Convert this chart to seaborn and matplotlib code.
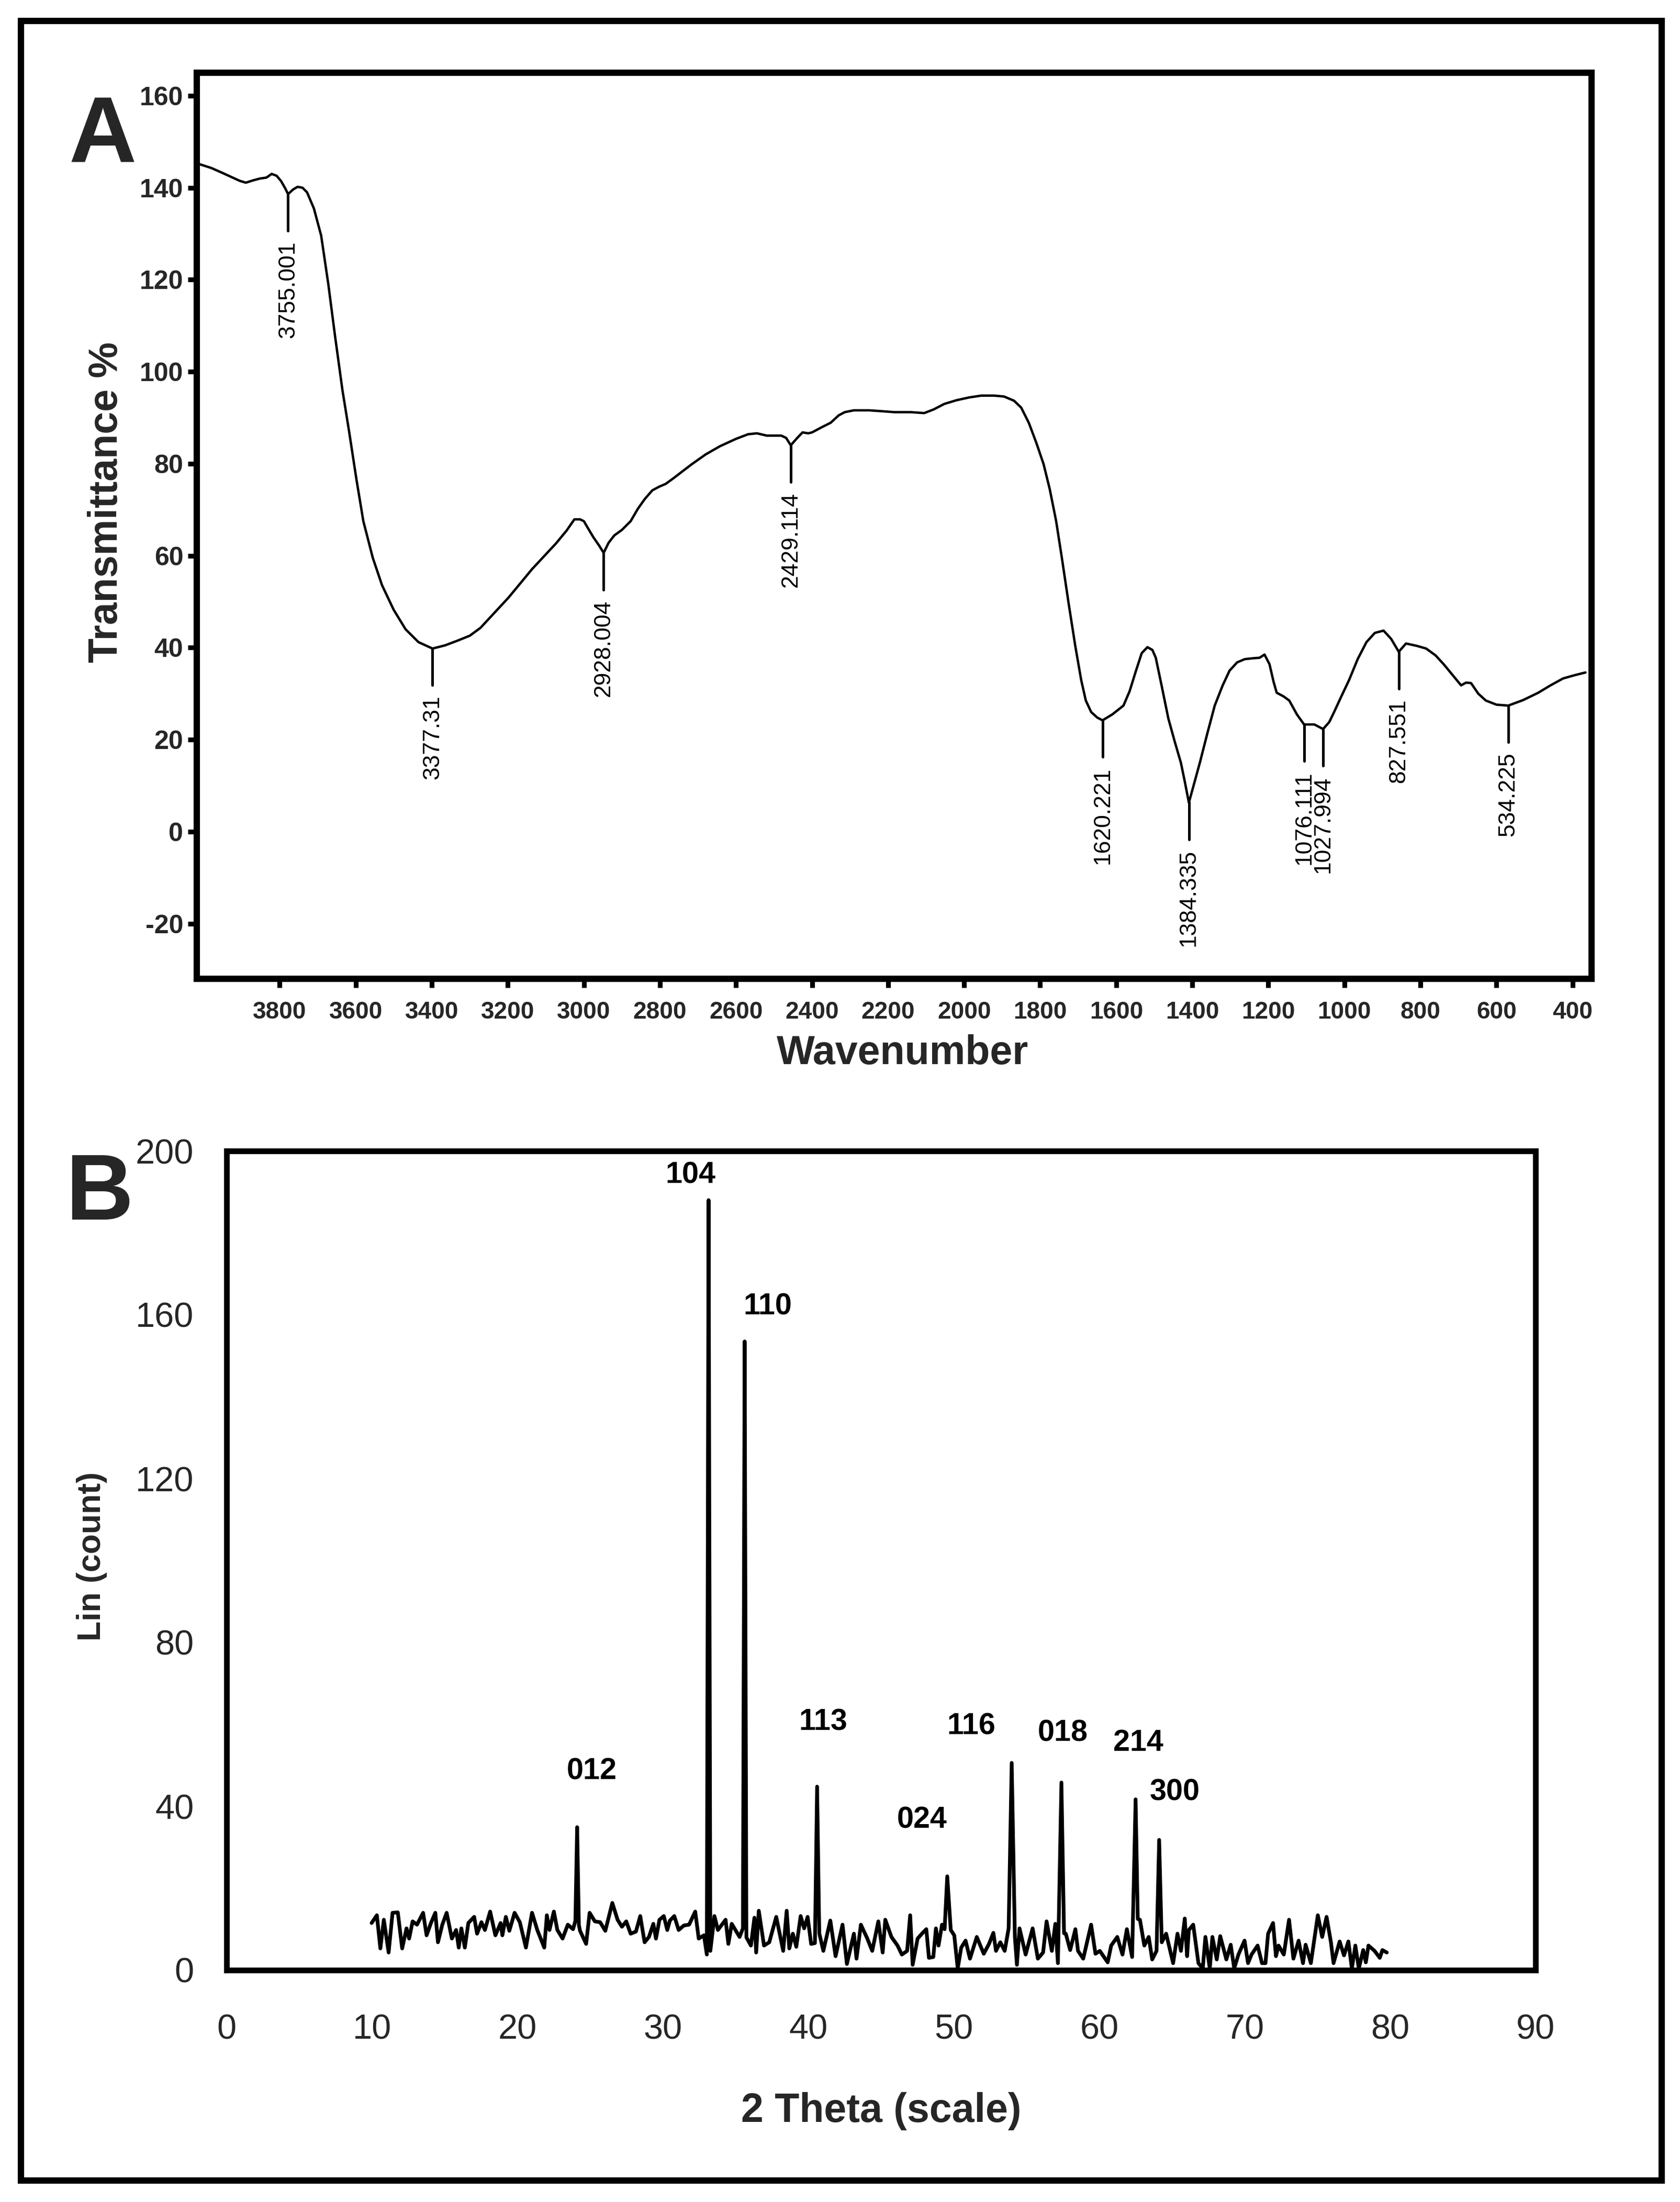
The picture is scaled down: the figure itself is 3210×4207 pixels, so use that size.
import matplotlib
matplotlib.use("Agg")
import matplotlib.pyplot as plt
from matplotlib import font_manager
from matplotlib.patches import Rectangle
import seaborn as sns

# ---------------- Panel A : FTIR spectrum ----------------
ir_wavenumber = [4010, 3980, 3950, 3926, 3905, 3889, 3870, 3852, 3835, 3821,
                 3808, 3796, 3785, 3778, 3765, 3753, 3740, 3728, 3710, 3691,
                 3672, 3654, 3635, 3617, 3598, 3580, 3555, 3531, 3500, 3469,
                 3435, 3398, 3365, 3333, 3300, 3272, 3235, 3198, 3136, 3074,
                 3045, 3025, 3010, 3000, 2988, 2975, 2960, 2948, 2935, 2920,
                 2900, 2877, 2858, 2840, 2820, 2802, 2785, 2765, 2716, 2680,
                 2642, 2600, 2568, 2545, 2519, 2481, 2468, 2456, 2440, 2425,
                 2410, 2400, 2375, 2351, 2330, 2314, 2290, 2277, 2250, 2215,
                 2183, 2140, 2105, 2080, 2052, 2020, 1987, 1955, 1921, 1895,
                 1869, 1850, 1830, 1810, 1791, 1775, 1758, 1742, 1725, 1708,
                 1692, 1680, 1666, 1650, 1636, 1610, 1581, 1565, 1548, 1533,
                 1518, 1505, 1496, 1480, 1463, 1447, 1430, 1420, 1409, 1395,
                 1380, 1360, 1341, 1320, 1302, 1282, 1262, 1240, 1223, 1210,
                 1197, 1186, 1178, 1160, 1145, 1125, 1106, 1079, 1056, 1040,
                 1027, 1008, 988, 965, 942, 920, 897, 877, 857, 838,
                 810, 785, 760, 739, 715, 693, 680, 667, 648, 628,
                 600, 569, 530, 490, 460, 425, 395, 366]
ir_transmittance = [145.1, 144.3, 143.2, 142.3, 141.5, 141.1, 141.6, 142.0, 142.2, 143.0,
                    142.6, 141.4, 139.8, 138.6, 139.6, 140.2, 140.0, 139.0, 135.5, 129.6,
                    119.0, 107.5, 96.0, 86.8, 76.5, 67.5, 59.5, 53.6, 48.2, 44.0,
                    41.2, 39.8, 40.5, 41.5, 42.6, 44.3, 47.6, 50.9, 57.1, 62.6,
                    65.5, 67.9, 67.9, 67.5, 65.8, 64.0, 62.2, 60.6, 62.8, 64.4,
                    65.6, 67.5, 70.2, 72.3, 74.2, 75.0, 75.6, 76.8, 79.9, 82.0,
                    83.8, 85.4, 86.4, 86.6, 86.1, 86.1, 85.6, 84.0, 85.5, 86.8,
                    86.6, 86.8, 87.9, 88.9, 90.5, 91.2, 91.6, 91.6, 91.6, 91.4,
                    91.2, 91.2, 91.0, 91.8, 93.0, 93.8, 94.4, 94.8, 94.8, 94.6,
                    93.7, 92.2, 88.9, 84.5, 79.9, 74.5, 67.5, 59.0, 49.5, 40.5,
                    32.9, 28.5, 26.0, 24.8, 24.2, 25.5, 27.4, 30.5, 35.0, 38.8,
                    40.1, 39.5, 37.8, 31.5, 24.6, 19.8, 15.0, 11.0, 6.3, 10.5,
                    15.0, 21.5, 27.4, 31.8, 35.0, 36.8, 37.5, 37.7, 37.8, 38.5,
                    36.4, 32.5, 30.2, 29.4, 28.5, 25.5, 23.3, 23.3, 22.3, 23.8,
                    26.0, 29.4, 32.9, 37.5, 41.2, 43.2, 43.7, 41.9, 39.1, 40.9,
                    40.4, 39.8, 38.3, 36.4, 34.0, 31.8, 32.4, 32.3, 30.0, 28.5,
                    27.6, 27.4, 28.6, 30.2, 31.7, 33.3, 34.0, 34.6]

ir_peak_pos = [3778, 3398, 2948, 2456, 1636, 1409, 1106, 1056, 857, 569]
ir_peak_dip = [138.6, 39.8, 60.6, 84.0, 24.2, 6.3, 23.3, 22.3, 39.1, 27.4]
ir_peak_labels = ["3755.001", "3377.31", "2928.004", "2429.114", "1620.221",
                  "1384.335", "1076.111", "1027.994", "827.551", "534.225"]
ir_xticks = list(range(3800, 399, -200))
ir_yticks = list(range(-20, 161, 20))

# ---------------- Panel B : XRD pattern ----------------
xrd_theta = [9.97, 10.33, 10.57, 10.81, 11.14, 11.41, 11.77, 12.07, 12.37, 12.55,
             12.79, 13.09, 13.51, 13.75, 14.05, 14.35, 14.53, 14.83, 15.13, 15.49,
             15.78, 15.96, 16.14, 16.38, 16.62, 17.02, 17.22, 17.52, 17.76, 18.12,
             18.48, 18.84, 18.96, 19.20, 19.44, 19.80, 20.16, 20.58, 21.00, 21.36,
             21.84, 22.02, 22.20, 22.50, 22.74, 23.10, 23.46, 23.82, 23.98, 24.10,
             24.22, 24.30, 24.72, 24.96, 25.32, 25.68, 26.04, 26.52, 26.88, 27.18,
             27.48, 27.78, 28.14, 28.44, 28.74, 29.04, 29.34, 29.52, 29.76, 30.06,
             30.30, 30.48, 30.78, 31.08, 31.44, 31.80, 32.22, 32.46, 32.82, 33.02,
             33.14, 33.26, 33.54, 33.78, 34.31, 34.50, 34.73, 35.27, 35.50, 35.62,
             35.74, 36.05, 36.29, 36.41, 36.59, 36.95, 37.31, 37.79, 38.27, 38.51,
             38.69, 38.93, 39.17, 39.47, 39.71, 39.95, 40.19, 40.45, 40.60, 40.75,
             41.03, 41.51, 41.87, 42.35, 42.65, 43.13, 43.31, 43.61, 44.03, 44.39,
             44.81, 45.11, 45.29, 45.71, 46.13, 46.43, 46.79, 47.00, 47.17, 47.51,
             47.81, 48.11, 48.29, 48.59, 48.77, 48.95, 49.19, 49.37, 49.55, 49.79,
             50.03, 50.27, 50.51, 50.81, 51.11, 51.58, 52.06, 52.42, 52.72, 52.90,
             53.20, 53.50, 53.77, 53.98, 54.20, 54.34, 54.52, 54.94, 55.42, 55.78,
             56.14, 56.38, 56.74, 56.98, 57.16, 57.40, 57.58, 57.70, 58.00, 58.36,
             58.54, 58.90, 59.44, 59.74, 60.04, 60.58, 60.82, 61.24, 61.60, 61.90,
             62.26, 62.50, 62.65, 62.80, 63.10, 63.40, 63.64, 63.94, 64.12, 64.30,
             64.60, 65.08, 65.38, 65.62, 65.88, 66.04, 66.16, 66.46, 66.82, 67.12,
             67.30, 67.60, 67.78, 68.08, 68.32, 68.74, 69.04, 69.28, 69.57, 69.99,
             70.23, 70.47, 70.89, 71.19, 71.43, 71.61, 71.95, 72.15, 72.33, 72.69,
             73.05, 73.35, 73.71, 74.01, 74.19, 74.55, 75.03, 75.33, 75.63, 75.93,
             76.11, 76.53, 76.83, 77.13, 77.37, 77.61, 77.85, 78.15, 78.33, 78.51,
             78.93, 79.29, 79.47, 79.77]
xrd_count = [11.5, 13.4, 5.3, 12.3, 4.3, 14.0, 14.1, 5.3, 10.2, 7.7,
             11.9, 11.1, 14.0, 8.5, 11.5, 14.0, 6.8, 11.1, 14.0, 7.7,
             9.8, 5.5, 10.2, 5.5, 11.5, 13.0, 8.9, 11.7, 9.8, 14.3,
             8.5, 11.5, 8.5, 13.0, 9.6, 14.0, 11.7, 5.5, 14.0, 9.8,
             5.5, 13.4, 9.8, 14.3, 9.8, 7.7, 11.1, 10.0, 12.0, 34.9,
             11.0, 9.6, 6.4, 14.0, 11.9, 11.7, 9.6, 16.4, 12.3, 10.6,
             11.9, 8.9, 9.4, 13.2, 6.8, 8.1, 11.3, 7.7, 12.3, 13.2,
             9.8, 12.1, 13.2, 9.8, 10.9, 11.1, 14.3, 7.7, 8.5, 3.8,
             188.0, 4.7, 13.2, 9.8, 12.3, 6.4, 11.3, 8.1, 10.2, 153.5,
             8.0, 6.0, 12.8, 4.3, 14.5, 6.0, 6.8, 13.0, 4.7, 14.5,
             5.3, 8.9, 5.7, 13.2, 10.2, 13.0, 6.4, 6.6, 44.8, 9.0,
             4.7, 12.1, 3.4, 11.1, 1.5, 8.9, 2.8, 11.1, 7.9, 4.7,
             11.9, 4.3, 12.3, 8.1, 6.0, 3.8, 4.7, 13.4, 1.3, 7.7,
             8.9, 10.0, 3.0, 3.2, 10.2, 6.0, 11.1, 10.0, 22.9, 9.8,
             8.5, 0.4, 5.5, 7.2, 2.8, 8.1, 4.0, 6.4, 9.1, 4.7,
             6.8, 4.7, 10.2, 50.6, 8.0, 1.3, 10.2, 3.8, 10.2, 2.8,
             4.3, 11.9, 4.7, 11.3, 1.7, 45.8, 9.0, 8.9, 4.9, 10.0,
             4.7, 2.8, 11.1, 4.0, 4.7, 1.9, 6.0, 8.1, 3.8, 10.0,
             3.2, 41.7, 12.5, 12.3, 6.0, 8.1, 2.6, 4.7, 31.8, 6.8,
             8.9, 1.7, 8.9, 4.7, 12.6, 3.4, 9.8, 11.1, 1.7, 0.4,
             8.1, 0.4, 8.1, 2.6, 8.3, 2.6, 6.2, 0.4, 3.8, 7.2,
             1.7, 3.8, 6.0, 1.7, 1.7, 8.9, 11.5, 3.4, 6.0, 3.8,
             12.3, 2.8, 7.2, 1.7, 6.2, 1.7, 13.4, 8.1, 13.0, 6.8,
             1.7, 7.0, 3.6, 7.0, 0.4, 6.0, 0.4, 4.9, 1.9, 6.0,
             4.7, 3.0, 4.9, 4.3]

xrd_hkl = ["012", "104", "110", "113", "024", "116", "018", "214", "300"]
xrd_hkl_x = [25.1, 31.9, 37.2, 41.0, 47.8, 51.2, 57.5, 62.7, 65.2]
xrd_hkl_y = [48.5, 194.0, 162.0, 60.5, 36.6, 59.5, 57.8, 55.4, 43.4]
xrd_xticks = list(range(0, 91, 10))
xrd_yticks = list(range(0, 201, 40))

# ---------------- style ----------------
sns.set_style("white")
plt.rcParams["font.family"] = ["Liberation Sans", "DejaVu Sans"]
plt.rcParams["axes.unicode_minus"] = False

installed = {f.name for f in font_manager.fontManager.ttflist}
if "Liberation Sans Narrow" in installed:
    fam_b = ["Liberation Sans Narrow", "Liberation Sans"]
    fs_tick_b, fs_hkl, fs_ylab_b, fs_xlab_b = 19, 16, 18, 22
else:
    fam_b = ["Liberation Sans", "DejaVu Sans"]
    fs_tick_b, fs_hkl, fs_ylab_b, fs_xlab_b = 16, 13.8, 15, 18.5

W, H = 3210, 4207
fig = plt.figure(figsize=(W / 300, H / 300), dpi=300)
fig.patch.set_facecolor("white")

# outer frame
fig.patches.append(Rectangle((40 / W, 1 - 4166 / H), (3175 - 40) / W, (4166 - 40) / H,
                             transform=fig.transFigure, fill=False, lw=2.9,
                             ec="black", zorder=10))

# ---- panel A
axA = fig.add_axes([376 / W, 1 - 1870 / H, (3041 - 376) / W, (1870 - 139) / H])
sns.lineplot(x=ir_wavenumber, y=ir_transmittance, ax=axA, color="black",
             linewidth=1.1, estimator=None, sort=False)
axA.set_xlim(4018, 350)
axA.set_ylim(-32, 165)
axA.set_xticks(ir_xticks)
axA.set_yticks(ir_yticks)
axA.tick_params(axis="both", direction="out", length=4, width=2.2, color="black",
                left=True, bottom=True)
axA.tick_params(axis="x", pad=6, labelsize=11)
axA.tick_params(axis="y", pad=2.2, labelsize=12)
for lab in axA.get_xticklabels() + axA.get_yticklabels():
    lab.set_fontweight("bold")
for sp in axA.spines.values():
    sp.set_visible(True)
    sp.set_linewidth(2.9)
    sp.set_color("black")

for x, dip, lab in zip(ir_peak_pos, ir_peak_dip, ir_peak_labels):
    end = dip - 8.0
    axA.plot([x, x], [dip, end], color="black", lw=1.2)
    axA.text(x, end - 2.2, lab, rotation=90, ha="center", va="top",
             fontsize=10.7, color="black")

axA.set_xlabel("Wavenumber", fontsize=18.5, fontweight="bold")
axA.set_ylabel("Transmittance %", fontsize=18.5, fontweight="bold")
axA.xaxis.set_label_coords(0.506, -0.061)
axA.yaxis.set_label_coords(-0.051, 0.526)

fig.text(132 / W, 1 - 310 / H, "A", fontsize=43, fontweight="bold",
         ha="left", va="baseline")

# ---- panel B
axB = fig.add_axes([433 / W, 1 - 3764 / H, (2934 - 433) / W, (3764 - 2199) / H])
sns.lineplot(x=xrd_theta, y=xrd_count, ax=axB, color="black",
             linewidth=1.7, estimator=None, sort=False)
axB.set_xlim(0, 90)
axB.set_ylim(0, 200)
axB.set_xticks(xrd_xticks)
axB.set_yticks(xrd_yticks)
axB.tick_params(axis="both", length=0, labelcolor="#262626")
axB.tick_params(axis="x", pad=20)
axB.tick_params(axis="y", pad=15)
for lab in axB.get_xticklabels() + axB.get_yticklabels():
    lab.set_family(fam_b)
    lab.set_fontsize(fs_tick_b)
for sp in axB.spines.values():
    sp.set_visible(True)
    sp.set_linewidth(2.6)
    sp.set_color("black")

for x, y, lab in zip(xrd_hkl_x, xrd_hkl_y, xrd_hkl):
    axB.text(x, y, lab, ha="center", va="center", fontsize=fs_hkl,
             fontweight="bold", family=fam_b, color="black")

axB.set_xlabel("2 Theta (scale)", fontsize=fs_xlab_b, fontweight="bold", family=fam_b)
axB.set_ylabel("Lin (count)", fontsize=fs_ylab_b, fontweight="bold", family=fam_b)
axB.xaxis.set_label_coords(0.5, -0.149)
axB.yaxis.set_label_coords(-0.091, 0.505)

fig.text(126 / W, 1 - 2330 / H, "B", fontsize=43, fontweight="bold",
         ha="left", va="baseline")

fig.savefig("out.png", dpi=300, facecolor="white")
